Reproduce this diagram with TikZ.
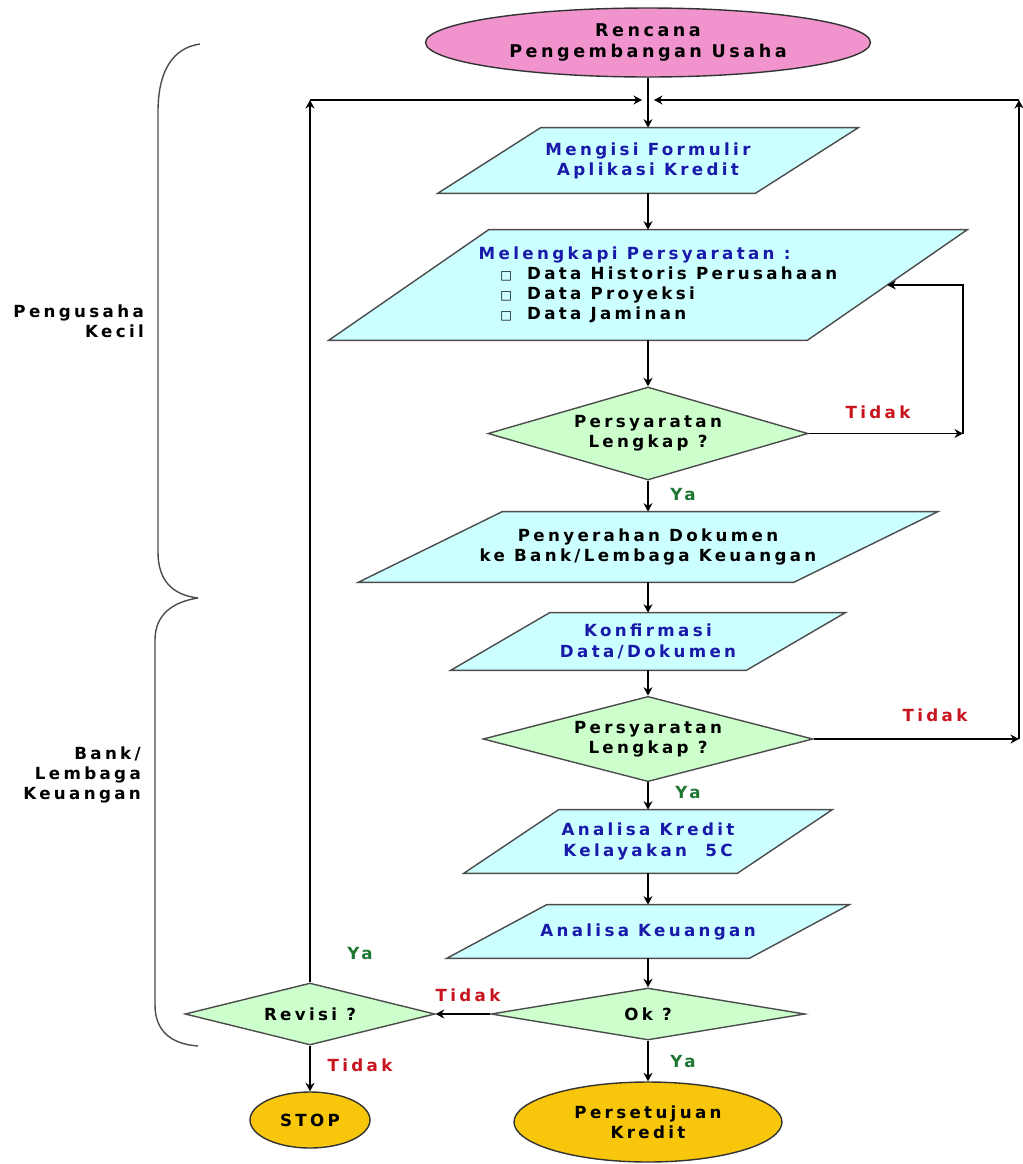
\documentclass[tikz,border=0pt]{standalone}
\usepackage{fontspec}
\newfontfamily\flowfont{DejaVu Sans}[LetterSpace=20]
\newfontfamily\symfont{DejaVu Sans}
\usetikzlibrary{shapes.geometric,arrows.meta,calc,backgrounds}
\definecolor{pinkfill}{RGB}{241,147,205}
\definecolor{cyanfill}{RGB}{204,255,255}
\definecolor{greenfill}{RGB}{204,255,204}
\definecolor{goldfill}{RGB}{248,198,10}
\definecolor{txtblue}{RGB}{25,25,170}
\definecolor{txtred}{RGB}{200,20,30}
\definecolor{txtgreen}{RGB}{30,120,50}
\newcommand\bul{{\symfont\fontsize{7}{7}\selectfont□}}
% parallelogram round a named box: #1 node, #2 slant
\newcommand\slantbox[2]{\filldraw[draw=black!70, thick, fill=cyanfill] ($(#1.south west)+(-#2/2,0)$) -- ($(#1.north west)+(#2/2,0)$) -- ($(#1.north east)+(#2/2,0)$) -- ($(#1.south east)+(-#2/2,0)$) -- cycle;}

\begin{document}
\begin{tikzpicture}[x=0.02cm, y=-0.02cm, font=\flowfont\bfseries\fontsize{9.5}{11.5}\selectfont,
    >={Stealth[length=1.7mm,width=1.8mm]},
    term/.style={draw=black!80, thick, shape=ellipse, inner sep=0pt, align=center},
    para/.style={shape=rectangle, inner sep=0pt, align=center},
    cek/.style={draw=black!70, thick, fill=greenfill, shape=diamond, aspect=3, inner sep=0pt, align=center},
    line/.style={line width=1.1pt},
    ya/.style={text=txtgreen}, tidak/.style={text=txtred}]
    \useasboundingbox (0,0) rectangle (1022,1164);

    % braces and side labels
    \draw[thick, black!70] (200,44) .. controls (172,48) and (158,72) .. (158,112) -- (158,552) .. controls (158,580) and (172,595) .. (198,598);
    \draw[thick, black!70] (198,598) .. controls (172,602) and (155,615) .. (155,640) -- (155,1005) .. controls (155,1030) and (170,1044) .. (198,1046);
    \node[anchor=east, align=right] (pk) at (150,321) {Pengusaha\\Kecil};
    \node[anchor=east, align=right] (bl) at (147,775) {Bank/\\Lembaga\\Keuangan};

    % main column
    \node[term, fill=pinkfill, minimum width=8.9cm, minimum height=1.38cm, font=\flowfont\bfseries\fontsize{10}{11.5}\selectfont] (e0) at (648,42.5) {Rencana\\Pengembangan Usaha};
    \node[para, text=txtblue, minimum width=6.34cm, minimum height=1.3cm] (p1) at (648,160.5) {Mengisi Formulir\\Aplikasi Kredit};
    \node[para, align=left, minimum width=9.56cm, minimum height=2.2cm] (p2) at (648,285) {\hspace*{0.4cm}{\color{txtblue}Melengkapi Persyaratan :}\\
        \hspace*{0.4cm}\hspace*{1.3em}\bul\hspace{0.9em}Data Historis Perusahaan\\
        \hspace*{0.4cm}\hspace*{1.3em}\bul\hspace{0.9em}Data Proyeksi\\
        \hspace*{0.4cm}\hspace*{1.3em}\bul\hspace{0.9em}Data Jaminan};
    \node[cek, minimum width=6.4cm, minimum height=1.86cm] (d1) at (648,433.5) {Persyaratan\\Lengkap ?};
    \node[para, minimum width=8.7cm, minimum height=1.4cm] (p3) at (648,547) {Penyerahan Dokumen\\ke Bank/Lembaga Keuangan};
    \node[para, text=txtblue, minimum width=5.9cm, minimum height=1.14cm] (p4) at (648,641.5) {Konfirmasi\\Data/Dokumen};
    \node[cek, minimum width=6.6cm, minimum height=1.64cm] (d2) at (648,739) {Persyaratan\\Lengkap ?};
    \node[para, text=txtblue, minimum width=5.46cm, minimum height=1.26cm] (p5) at (648,841.5) {Analisa Kredit\\Kelayakan\ \ 5C};
    \node[para, text=txtblue, minimum width=6.04cm, minimum height=1.06cm] (p6) at (648,931.5) {Analisa Keuangan};
    \node[cek, minimum width=6.28cm, minimum height=1.04cm] (d3) at (648,1014) {Ok ?};
    \node[cek, minimum width=5cm, minimum height=1.24cm] (d4) at (310,1014) {Revisi ?};
    \node[term, fill=goldfill, minimum width=2.4cm, minimum height=1.12cm] (stop) at (310,1120) {STOP};
    \node[term, fill=goldfill, minimum width=5.36cm, minimum height=1.6cm] (acc) at (648,1122) {Persetujuan\\Kredit};

    \begin{pgfonlayer}{background}
        \slantbox{p1}{103}\slantbox{p2}{160}\slantbox{p3}{144}
        \slantbox{p4}{99}\slantbox{p5}{95}\slantbox{p6}{100}
    \end{pgfonlayer}

    % loop points
    \coordinate (c1) at (963,433.5);
    \coordinate (cl) at (310,100);\coordinate (tl) at (642,100);
    \coordinate (cr) at (1019,100);\coordinate (tr) at (654,100);
    \coordinate (cr2) at (1019,739);

    % connectors
    \draw[->, line] (e0.south) -- (p1.north);
    \draw[->, line] (p1.south) -- (p2.north);
    \draw[->, line] (p2.south) -- (d1.north);
    \draw[->, line] (d1.south) -- (p3.north);
    \draw[->, line] (p3.south) -- (p4.north);
    \draw[->, line] (p4.south) -- (d2.north);
    \draw[->, line] (d2.south) -- (p5.north);
    \draw[->, line] (p5.south) -- (p6.north);
    \draw[->, line] (p6.south) -- (d3.north);
    \draw[->, line] (d3.south) -- (acc.north);
    \draw[->, line] (d3.west) -- (d4.east);
    \draw[->, line] (d4.south) -- (stop.north);
    \draw[->, line] (d1.east) -- (c1);\draw[->, line] (c1) |- (p2.east);
    \draw[->, line] (d4.north) -- (cl);\draw[->, line] (cl) -- (tl);
    \draw[->, line] (d2.east) -- (cr2);\draw[->, line] (cr2) -- (cr);\draw[->, line] (cr) -- (tr);

    % branch labels
    \node[tidak] (t1) at (878,412) {Tidak};
    \node[ya] (y1) at (683,495) {Ya};
    \node[tidak] (t2) at (935,715) {Tidak};
    \node[ya] (y2) at (688,793) {Ya};
    \node[ya] (y3) at (360,954) {Ya};
    \node[tidak] (t3) at (468,995) {Tidak};
    \node[tidak] (t4) at (360,1065) {Tidak};
    \node[ya] (y4) at (683,1062) {Ya};
\end{tikzpicture}
\end{document}
